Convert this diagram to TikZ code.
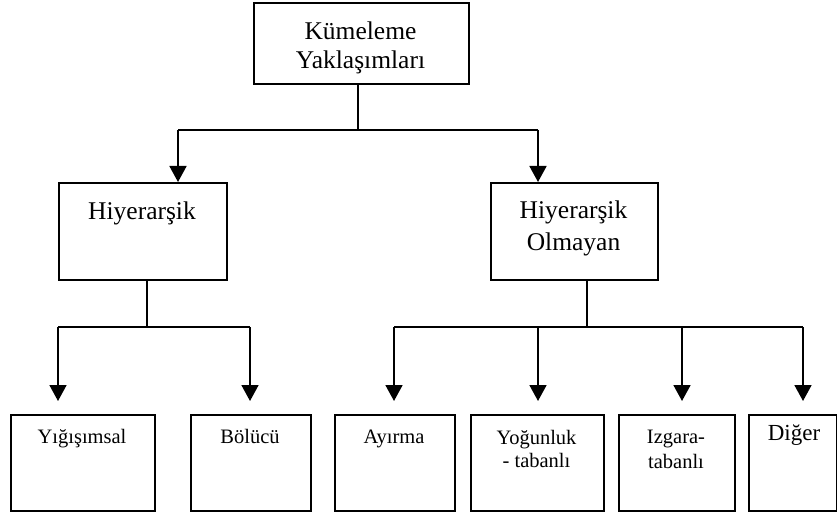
\documentclass[tikz,border=0pt]{standalone}
\usepackage{fontspec}
\setmainfont{Liberation Serif}
\usetikzlibrary{arrows.meta}
\begin{document}
\begin{tikzpicture}[x=1pt,y=-1pt,
  box/.style={draw,line width=1.7pt,inner sep=0pt,anchor=north west},
  txt/.style={anchor=base,inner sep=0pt},
  big/.style={font=\fontsize{25.5}{30}\selectfont},
  small/.style={font=\fontsize{20.5}{23}\selectfont},
  ln/.style={line width=1.7pt},
  arr/.style={line width=1.7pt,-{Triangle[width=17pt,length=16pt]}}]
\useasboundingbox (0,0) rectangle (837,513);
% boxes
\node[box,minimum width=215pt,minimum height=81pt] (T) at (253,2) {};
\node[box,minimum width=168pt,minimum height=97pt] (H) at (58,182) {};
\node[box,minimum width=167pt,minimum height=97pt] (HO) at (490,182) {};
\node[box,minimum width=144pt,minimum height=96pt] (Y) at (10,414) {};
\node[box,minimum width=120pt,minimum height=96pt] (B) at (190,414) {};
\node[box,minimum width=120pt,minimum height=96pt] (A) at (334,414) {};
\node[box,minimum width=133pt,minimum height=96pt] (YT) at (470,414) {};
\node[box,minimum width=116pt,minimum height=96pt] (IT) at (618,414) {};
\node[box,minimum width=88pt,minimum height=96pt] (D) at (748,414) {};
% texts
\node[txt,big] (Tt1) at (360.5,40) {Kümeleme};
\node[txt,big] (Tt2) at (360.5,69) {Yaklaşımları};
\node[txt,big] (Ht) at (142,219) {Hiyerarşik};
\node[txt,big] (HOt1) at (573.5,218) {Hiyerarşik};
\node[txt,big] (HOt2) at (573.5,250) {Olmayan};
\node[txt,small] (Yt) at (82,443) {Yığışımsal};
\node[txt,small] (Bt) at (250,443) {Bölücü};
\node[txt,small] (At) at (394,443) {Ayırma};
\node[txt,small] (YTt1) at (536.5,444) {Yoğunluk};
\node[txt,small] (YTt2) at (536.5,467) {- tabanlı};
\node[txt,small] (ITt1) at (676,443) {Izgara-};
\node[txt,small] (ITt2) at (676,468) {tabanlı};
\node[txt,font=\fontsize{23}{27}\selectfont] (Dt) at (794,440) {Diğer};
% junction coordinates
\coordinate (j0) at (358,130);
\coordinate (j0l) at (178,130);
\coordinate (j0r) at (538,130);
\coordinate (j1) at (147,327);
\coordinate (j1l) at (58,327);
\coordinate (j1r) at (250,327);
\coordinate (j2) at (587,327);
\coordinate (j2a) at (394,327);
\coordinate (j2b) at (538,327);
\coordinate (j2c) at (682,327);
\coordinate (j2d) at (803,327);
% connectors
\draw[ln] (j0 |- T.south) -- (j0);
\draw[ln] (j0l) -- (j0r);
\draw[arr] (j0l) -- (j0l |- H.north);
\draw[arr] (j0r) -- (j0r |- HO.north);
\draw[ln] (j1 |- H.south) -- (j1);
\draw[ln] (j1l) -- (j1r);
\draw[arr] (j1l) -- ([yshift=13pt]j1l |- Y.north);
\draw[arr] (j1r) -- ([yshift=13pt]j1r |- B.north);
\draw[ln] (j2 |- HO.south) -- (j2);
\draw[ln] (j2a) -- (j2d);
\draw[arr] (j2a) -- ([yshift=13pt]j2a |- A.north);
\draw[arr] (j2b) -- ([yshift=13pt]j2b |- YT.north);
\draw[arr] (j2c) -- ([yshift=13pt]j2c |- IT.north);
\draw[arr] (j2d) -- ([yshift=13pt]j2d |- D.north);
\end{tikzpicture}
\end{document}
